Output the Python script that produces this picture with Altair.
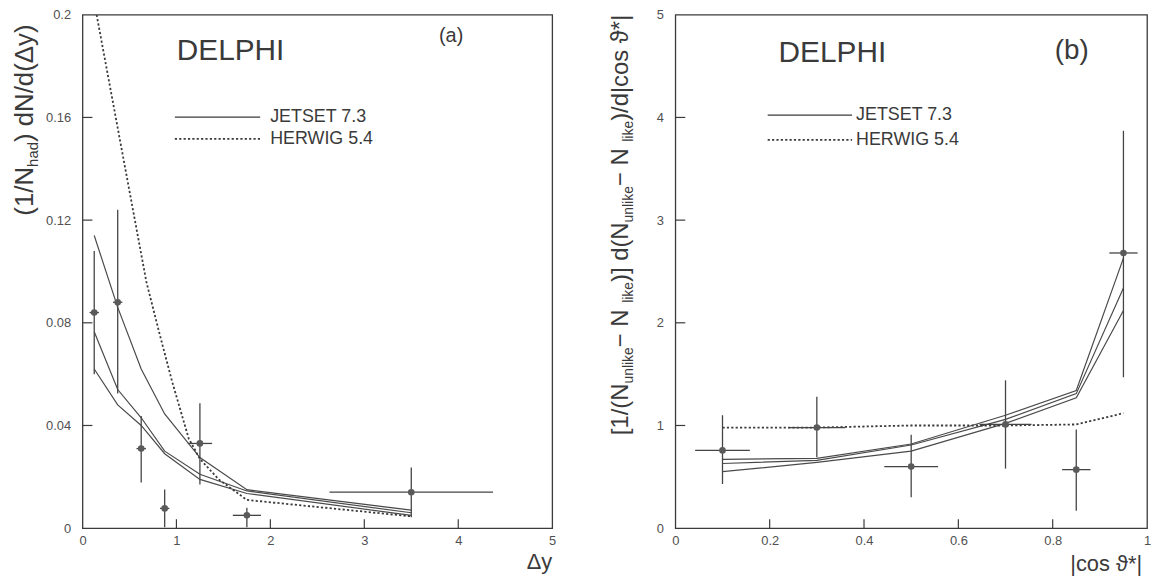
import altair as alt
import pandas as pd

# ---------------- panel (a): (1/N_had) dN/d(Δy) versus Δy ----------------
a_x = [0.125, 0.375, 0.625, 0.875, 1.25, 1.75, 3.5]
a_y = [0.084, 0.088, 0.031, 0.0077, 0.033, 0.005, 0.014]
a_lo = [0.060, 0.0525, 0.0178, 0.0004, 0.017, 0.0004, 0.0043]
a_hi = [0.108, 0.124, 0.0437, 0.0151, 0.0487, 0.008, 0.0236]
a_xerr = [0.05, 0.05, 0.05, 0.05, 0.13, 0.15, 0.87]

jet_a_x = [0.125, 0.375, 0.625, 0.875, 1.25, 1.75, 3.5]
jet_a_1 = [0.114, 0.086, 0.062, 0.0445, 0.0275, 0.015, 0.007]
jet_a_2 = [0.0765, 0.054, 0.043, 0.030, 0.021, 0.0145, 0.006]
jet_a_3 = [0.062, 0.048, 0.040, 0.029, 0.019, 0.0135, 0.005]
her_a_x = [0.125, 0.68, 0.814, 0.955, 1.13, 1.25, 1.45, 1.75, 3.5]
her_a_y = [0.205, 0.096, 0.0766, 0.057, 0.035, 0.027, 0.019, 0.011, 0.0046]

a_xticks = [0, 1, 2, 3, 4, 5]
a_yticks = [0, 0.04, 0.08, 0.12, 0.16, 0.2]

# ---------------- panel (b): versus |cos θ*| ----------------
b_x = [0.1, 0.3, 0.5, 0.7, 0.85, 0.95]
b_y = [0.757, 0.98, 0.60, 1.01, 0.57, 2.68]
b_lo = [0.43, 0.69, 0.30, 0.58, 0.17, 1.47]
b_hi = [1.10, 1.28, 0.91, 1.44, 0.96, 3.87]
b_xerr = [0.058, 0.06, 0.057, 0.055, 0.03, 0.03]

jet_b_x = [0.1, 0.3, 0.5, 0.7, 0.85, 0.95]
jet_b_1 = [0.67, 0.68, 0.82, 1.10, 1.34, 2.63]
jet_b_2 = [0.63, 0.66, 0.81, 1.06, 1.31, 2.34]
jet_b_3 = [0.55, 0.64, 0.75, 1.02, 1.27, 2.12]
her_b_x = [0.1, 0.3, 0.5, 0.7, 0.85, 0.95]
her_b_y = [0.98, 0.98, 1.0, 1.0, 1.01, 1.12]

b_xticks = [0, 0.2, 0.4, 0.6, 0.8, 1]
b_yticks = [0, 1, 2, 3, 4, 5]

legend_labels = ["JETSET 7.3", "HERWIG 5.4"]
title_a = [("(1/N", False), ("had", True), (") dN/d(Δy)", False)]
title_b = [("[1/(N", False), ("unlike", True), (" − N", False), ("like", True),
           (")] d(N", False), ("unlike", True), (" − N", False), ("like", True),
           (")/d|cos ϑ*|", False)]

# ---------------- styling ----------------
FONT = "Liberation Sans"
INK = "#3a3a3a"
W, H = 473, 517
W_B = 475

# Arial / Liberation Sans advance widths (per 1000 em), used to lay out the
# pieces of the rotated axis titles with their subscripts.
ADV = {' ': 278, '(': 333, ')': 333, '[': 278, ']': 278, '/': 278, '1': 556,
       '−': 584, '*': 389, 'N': 722, 'a': 556, 'd': 556, 'h': 556, 'u': 556,
       'n': 556, 'l': 222, 'i': 222, 'k': 500, 'e': 556, 'c': 500, 'o': 556,
       's': 500, 'y': 500, 'Δ': 668, 'ϑ': 600, '|': 260}


def txt(text, x, y, size, align="left", baseline="middle", angle=0):
    return alt.Chart(pd.DataFrame({"t": [text]})).mark_text(
        font=FONT, fontSize=size, align=align, baseline=baseline, angle=angle,
        color=INK
    ).encode(text="t:N", x=alt.value(x), y=alt.value(y))


def rotated_title(pieces, y_center, x_base, size, sub_size, sub_shift):
    total = sum(sum(ADV.get(c, 556) for c in s) * (sub_size if sub else size) / 1000
                for s, sub in pieces)
    y = y_center + total / 2
    layers = []
    for s, sub in pieces:
        fs = sub_size if sub else size
        xb = x_base + (sub_shift if sub else 0)
        layers.append(txt(s, xb, y, fs, align="left", baseline="alphabetic", angle=270))
        y -= sum(ADV.get(c, 556) for c in s) * fs / 1000
    return layers


def panel(px, py, plo, phi, pxerr, jx, jets, hx, hy, xdom, ydom, xticks, yticks,
          width, label, label_pos, label_size, delphi_pos, leg_pos, title_pieces,
          title_y, title_x, title_size, xtitle, xtitle_pos):
    xscale = alt.Scale(domain=xdom, nice=False, zero=False)
    yscale = alt.Scale(domain=ydom, nice=False, zero=False)
    xaxis = alt.Axis(values=xticks, format="~g", title=None, ticks=False, domain=False,
                     grid=False, labelFlush=False, labelFont=FONT, labelFontSize=13,
                     labelColor="#505050", labelPadding=6)
    yaxis = alt.Axis(values=yticks, format="~g", title=None, ticks=False, domain=False,
                     grid=False, labelFont=FONT, labelFontSize=13,
                     labelColor="#505050", labelPadding=12)

    def X(f):
        return alt.X(f, scale=xscale, axis=xaxis)

    def Y(f):
        return alt.Y(f, scale=yscale, axis=yaxis)

    rows = []
    for k, ys in enumerate(jets):
        for x, y in zip(jx, ys):
            rows.append({"x": x, "y": y, "s": f"j{k}"})
    jet_df = pd.DataFrame(rows)
    her_df = pd.DataFrame({"x": hx, "y": hy})
    pts = pd.DataFrame({"x": px, "y": py, "lo": plo, "hi": phi,
                        "xl": [a - e for a, e in zip(px, pxerr)],
                        "xr": [a + e for a, e in zip(px, pxerr)]})

    jet = alt.Chart(jet_df).mark_line(color="#4a4a4a", strokeWidth=1.2).encode(
        x=X("x:Q"), y=Y("y:Q"), detail="s:N")
    her = alt.Chart(her_df).mark_line(color="#3a3a3a", strokeWidth=1.8,
                                      strokeDash=[2.2, 2.2], clip=True).encode(
        x=X("x:Q"), y=Y("y:Q"))
    verr = alt.Chart(pts).mark_rule(color="#444444", strokeWidth=1.3).encode(
        x=X("x:Q"), y=Y("lo:Q"), y2="hi:Q")
    herr = alt.Chart(pts).mark_rule(color="#444444", strokeWidth=1.3).encode(
        x=X("xl:Q"), x2="xr:Q", y=Y("y:Q"))
    dots = alt.Chart(pts).mark_circle(color="#5a5a5a", opacity=1, size=45).encode(
        x=X("x:Q"), y=Y("y:Q"))

    ytk = alt.Chart(pd.DataFrame({"v": yticks[1:-1]})).mark_rule(
        color=INK, strokeWidth=1.2).encode(
        y=Y("v:Q"), x=alt.value(0), x2=alt.value(10))
    xtk = alt.Chart(pd.DataFrame({"v": xticks[1:-1]})).mark_rule(
        color=INK, strokeWidth=1.2).encode(
        x=X("v:Q"), y=alt.value(H), y2=alt.value(H - 9))

    lx0, lx1, ly0, ly1, ltx = leg_pos
    one = pd.DataFrame({"k": [0]})
    leg_solid = alt.Chart(one).mark_rule(color="#3a3a3a", strokeWidth=1.3).encode(
        x=alt.value(lx0), x2=alt.value(lx1), y=alt.value(ly0))
    leg_dot = alt.Chart(one).mark_rule(color="#3a3a3a", strokeWidth=1.8,
                                       strokeDash=[2.2, 2.2]).encode(
        x=alt.value(lx0), x2=alt.value(lx1), y=alt.value(ly1))

    layers = [jet, her, verr, herr, dots, ytk, xtk, leg_solid, leg_dot,
              txt(legend_labels[0], ltx, ly0, 18),
              txt(legend_labels[1], ltx, ly1, 18),
              txt("DELPHI", delphi_pos[0], delphi_pos[1], 30),
              txt(label, label_pos[0], label_pos[1], label_size),
              txt(xtitle, xtitle_pos[0], xtitle_pos[1], 22, align="right")]
    layers += rotated_title(title_pieces, title_y, title_x, title_size,
                            round(title_size * 0.58), 5)
    return alt.layer(*layers).properties(width=width, height=H)


pa = panel(a_x, a_y, a_lo, a_hi, a_xerr, jet_a_x, [jet_a_1, jet_a_2, jet_a_3],
           her_a_x, her_a_y, [0, 5], [0, 0.2], a_xticks, a_yticks, W,
           "(a)", (359, 21), 20, (95, 37), (93, 179, 103, 125, 189),
           title_a, 106, -50, 26, "Δy", (473, 551))

pb = panel(b_x, b_y, b_lo, b_hi, b_xerr, jet_b_x, [jet_b_1, jet_b_2, jet_b_3],
           her_b_x, her_b_y, [0, 1], [0, 5], b_xticks, b_yticks, W_B,
           "(b)", (382, 37), 28, (104, 39), (93, 178, 101, 126, 182),
           title_b, 211, -48, 24, "|cos ϑ*|", (470, 553))

chart = alt.hconcat(pa, pb, spacing=124, bounds="flush").properties(
    autosize=alt.AutoSizeParams(type="none"),
    padding={"left": 75, "top": 3, "right": 1076, "bottom": 567},
    background="white",
).configure_view(stroke=INK, strokeWidth=1.3)

chart.save("out.html", embed_options={"renderer": "svg", "actions": False})
